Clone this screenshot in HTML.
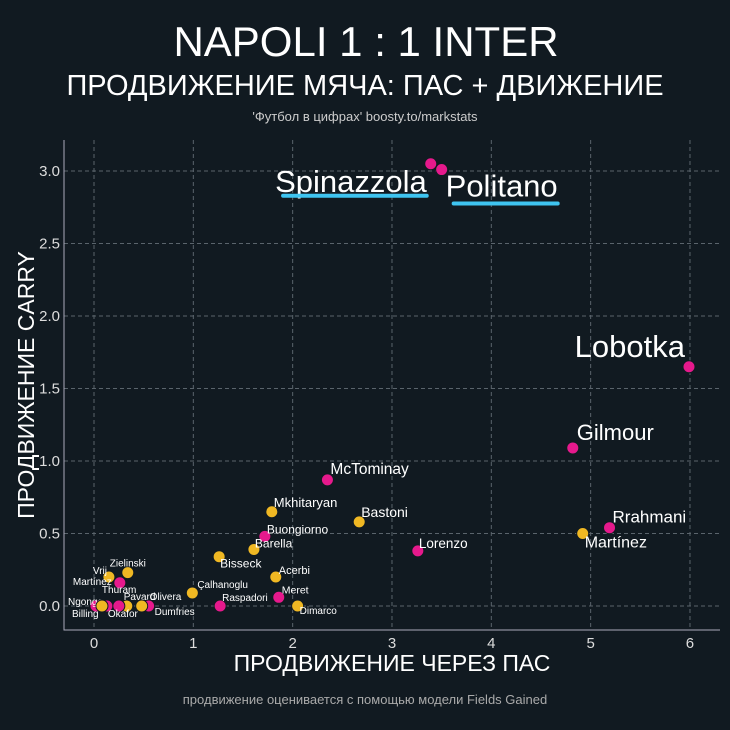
<!DOCTYPE html><html><head><meta charset="utf-8"><style>
body{margin:0;background:#111a21;}
svg{display:block;font-family:"Liberation Sans","Noto Sans CJK SC",sans-serif;}
</style></head><body>
<svg width="730" height="730" id="c">
<rect width="730" height="730" fill="#111a21"/>
<text x="366" y="56" fill="#fff" font-size="42" text-anchor="middle">NAPOLI 1 : 1 INTER</text>
<text x="365" y="95" fill="#fff" font-size="29" text-anchor="middle">ПРОДВИЖЕНИЕ МЯЧА: ПАС + ДВИЖЕНИЕ</text>
<text x="365" y="121" fill="#ccc" font-size="13" text-anchor="middle">'Футбол в цифрах' boosty.to/markstats</text>
<text x="392" y="671" fill="#fff" font-size="23" text-anchor="middle">ПРОДВИЖЕНИЕ ЧЕРЕЗ ПАС</text>
<text transform="translate(34,385) rotate(-90)" fill="#fff" font-size="23" text-anchor="middle">ПРОДВИЖЕНИЕ CARRY</text>
<text x="365" y="704" fill="#aaa" font-size="13" text-anchor="middle">продвижение оценивается с помощью модели Fields Gained</text>
<g id="grid"></g><g id="pts"></g>
</svg>
<script>
const names=["Spinazzola","Politano","Lobotka","Gilmour","Rrahmani","Martínez","Lorenzo","McTominay","Bastoni","Mkhitaryan","Buongiorno","Barella","Bisseck","Acerbi","Meret","Dimarco","Raspadori","Çalhanoglu","Zielinski","Vrij","Martínez ","Thuram","Pavard","Okafor","Dumfries","Olivera","Ngonge","Billing"];
const xs=[3.39,3.50,5.99,4.82,5.19,4.92,3.26,2.35,2.67,1.79,1.72,1.61,1.26,1.83,1.86,2.05,1.27,0.99,0.34,0.15,0.26,0.13,0.33,0.25,0.55,0.48,0.02,0.08];
const ys=[3.05,3.01,1.65,1.09,0.54,0.50,0.38,0.87,0.58,0.65,0.48,0.39,0.34,0.20,0.06,0.0,0.0,0.09,0.23,0.20,0.16,0.0,0.0,0.0,0.0,0.0,0.0,0.0];
const team=["n","n","n","n","n","i","n","n","i","i","n","i","i","i","n","i","n","i","i","i","n","n","i","n","n","i","n","i"];
const xTicks=[0,1,2,3,4,5,6];
const yTicks=[0.0,0.5,1.0,1.5,2.0,2.5,3.0];
const lab={"Spinazzola":[-4,28,31,"end"],"Politano":[4,27,31,"start"],"Lobotka":[-4,-10,31,"end"],"Gilmour":[4,-8,22,"start"],"Rrahmani":[3,-5,17,"start"],"Martínez":[2,14,16,"start"],"Lorenzo":[1,-3,13.5,"start"],"McTominay":[3,-6,15.5,"start"],"Bastoni":[2,-5,14,"start"],"Mkhitaryan":[2,-5,13,"start"],"Buongiorno":[2,-3,12,"start"],"Barella":[1,-2,12,"start"],"Bisseck":[1,11,12,"start"],"Acerbi":[3,-3,11,"start"],"Meret":[3,-4,10.5,"start"],"Dimarco":[2,8,10,"start"],"Raspadori":[2,-5,10,"start"],"Çalhanoglu":[5,-5,10,"start"],"Zielinski":[-18,-6,10,"start"],"Vrij":[-16,-3,10,"start"],"Martínez ":[-8,2,10,"end"],"Thuram":[-5,-13,10,"start"],"Pavard":[-3,-6,10,"start"],"Okafor":[-11,11,10,"start"],"Dumfries":[6,9,10,"start"],"Olivera":[8,-6,10,"start"],"Ngonge":[-28,-1,10,"start"],"Billing":[-30,11,10,"start"]};
const X=v=>94+v*99.33, Y=v=>606-v*145;
const ns="http://www.w3.org/2000/svg";
function mk(t,a,p){const e=document.createElementNS(ns,t);for(const k in a)e.setAttribute(k,a[k]);p.appendChild(e);return e;}
const g=document.getElementById('grid'),P=document.getElementById('pts');
xTicks.forEach(t=>{const l=mk('line',{x1:X(t),x2:X(t),y1:140,y2:630,stroke:'#5a646c','stroke-dasharray':'4,3','stroke-width':1},g);


const tx=mk('text',{x:X(t),y:648,fill:'#ddd','font-size':15,'text-anchor':'middle'},g);tx.textContent=t;

});
yTicks.forEach(t=>{const l=mk('line',{x1:64,x2:720,y1:Y(t),y2:Y(t),stroke:'#5a646c','stroke-dasharray':'4,3','stroke-width':1},g);


const tx=mk('text',{x:60,y:Y(t)+5,fill:'#ddd','font-size':15,'text-anchor':'end'},g);tx.textContent=t.toFixed(1);

});
const ax=mk('path',{d:'M64,140V630H720',fill:'none',stroke:'#aab','stroke-width':1},g);


names.forEach((n,i)=>{const cx=X(xs[i]),cy=Y(ys[i]);
const c=mk('circle',{cx:cx,cy:cy,r:6,fill:team[i]=='n'?'#e6198c':'#f0b823',stroke:'#111a21','stroke-width':1},P);


const L=lab[n];const t=mk('text',{x:cx+L[0],y:cy+L[1],fill:'#fff','font-size':L[2],'text-anchor':L[3]},P);t.textContent=n.trim();


if(n=="Spinazzola"||n=="Politano"){const w=t.getComputedTextLength();const x0=L[3]=="end"?cx+L[0]-w:cx+L[0];
const u=mk('line',{x1:x0+8,x2:x0+w,y1:cy+L[1]+(n=="Politano"?7:4),y2:cy+L[1]+(n=="Politano"?7:4),stroke:'#3fc4f0','stroke-width':4,'stroke-linecap':'round'},P);

}
});
</script>
</body></html>
